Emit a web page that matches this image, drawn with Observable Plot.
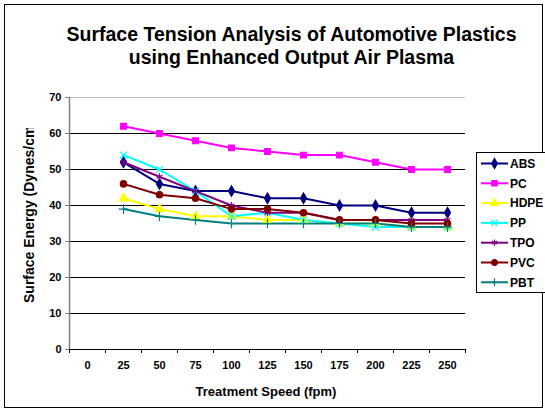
<!DOCTYPE html>
<html>
<head>
<meta charset="utf-8">
<script src="https://cdn.jsdelivr.net/npm/d3@7"></script>
<script src="https://cdn.jsdelivr.net/npm/@observablehq/plot@0.6"></script>
<style>
  html, body { margin: 0; padding: 0; background: #fff; }
  #chart { position: relative; width: 545px; height: 410px; }
</style>
</head>
<body>
<div id="chart"></div>
<script>
const titleLines = ["Surface Tension Analysis of Automotive Plastics", "using Enhanced Output Air Plasma"];
const xTitle = "Treatment Speed (fpm)";
const yTitle = "Surface Energy (Dynes/cm";
const categories = ["0", "25", "50", "75", "100", "125", "150", "175", "200", "225", "250"];
const speeds = ["25", "50", "75", "100", "125", "150", "175", "200", "225", "250"];
const yTicks = [0, 10, 20, 30, 40, 50, 60, 70];
const seriesNames = ["ABS", "PC", "HDPE", "PP", "TPO", "PVC", "PBT"];
const seriesColors = ["#000080", "#FF00FF", "#FFFF00", "#00FFFF", "#800080", "#800000", "#008080"];
const seriesSymbols = ["diamond", "square", "triangle", "times", "asterisk", "circle", "plus"];

const abs  = [52, 46, 44, 44, 42, 42, 40, 40, 38, 38];
const pc   = [62, 60, 58, 56, 55, 54, 54, 52, 50, 50];
const hdpe = [42, 39, 37, 37, 36, 36, 35, 35, 34, 34];
const pp   = [54, 50, 44, 37, 38, 36, 35, 34, 34, 34];
const tpo  = [52, 48, 44, 40, 38, 38, 36, 36, 36, 36];
const pvc  = [46, 43, 42, 39, 39, 38, 36, 36, 35, 35];
const pbt  = [39, 37, 36, 35, 35, 35, 35, 35, 34, 34];

const seriesValues = [abs, pc, hdpe, pp, tpo, pvc, pbt];
const rows = [];
seriesNames.forEach((name, k) => {
  speeds.forEach((s, i) => rows.push({series: name, speed: s, value: seriesValues[k][i]}));
});

const font = "'Liberation Sans', Arial, sans-serif";

const chart = Plot.plot({
  width: 545,
  height: 410,
  marginLeft: 69,
  marginRight: 80,
  marginTop: 97,
  marginBottom: 61,
  style: {fontFamily: font, fontSize: "11px", fontWeight: "bold", color: "#000", background: "#fff", overflow: "visible"},
  x: {type: "point", domain: categories, padding: 0.5},
  y: {domain: [0, 70]},
  color: {domain: seriesNames, range: seriesColors},
  symbol: {domain: seriesNames, range: seriesSymbols},
  marks: [
    Plot.ruleY(yTicks.filter(d => d > 0 && d < 70), {stroke: "#000", strokeWidth: 1}),
    Plot.ruleY([70], {stroke: "#c0c0c0", strokeWidth: 1}),
    Plot.axisY({ticks: yTicks, tickSize: 4, tickPadding: 4, label: null, stroke: "#808080", tickFormat: d => String(d)}),
    Plot.axisX({tickSize: 0, tickPadding: 12, label: null}),
    Plot.axisX({tickSize: 4, dx: -18, tickFormat: () => "", label: null, stroke: "#000"}),
    Plot.axisX({ticks: ["250"], tickSize: 4, dx: 18, tickFormat: () => "", label: null, stroke: "#000"}),
    Plot.frame({anchor: "left", stroke: "#808080", strokeWidth: 1.5}),
    Plot.ruleY([0], {stroke: "#000", strokeWidth: 1}),
    Plot.line(rows, {x: "speed", y: "value", z: "series", stroke: "series", strokeWidth: 2}),
    Plot.dot(rows, {x: "speed", y: "value", symbol: "series", fill: "series", stroke: "series", strokeWidth: 1.2, r: 3.2})
  ]
});

document.getElementById("chart").appendChild(chart);

const svg = d3.select(chart);
// outer border
svg.append("rect").attr("x", 4.5).attr("y", 4.5).attr("width", 538).attr("height", 403)
  .attr("fill", "none").attr("stroke", "#000").attr("stroke-width", 1);

// title
const t = svg.append("text").attr("text-anchor", "middle").attr("font-family", font)
  .attr("font-size", 19.5).attr("font-weight", "bold").attr("fill", "#000");
titleLines.forEach((line, i) => t.append("tspan").attr("x", 291.5).attr("y", 41 + i * 23).text(line));

// axis titles
svg.append("text").attr("x", 266).attr("y", 396).attr("text-anchor", "middle")
  .attr("font-family", font).attr("font-size", 13).attr("font-weight", "bold").text(xTitle);
svg.append("clipPath").attr("id", "ytitle-clip")
  .append("rect").attr("x", 0).attr("y", 128).attr("width", 60).attr("height", 200);
svg.append("text").attr("transform", "translate(33.5,303) rotate(-90)").attr("text-anchor", "start")
  .attr("clip-path", null)
  .attr("font-family", font).attr("font-size", 14).attr("font-weight", "bold").text(yTitle);
svg.select("text:last-of-type");
svg.selectAll("text").filter(function () { return this.textContent === yTitle; })
  .each(function () {
    const g = svg.append("g").attr("clip-path", "url(#ytitle-clip)");
    g.node().appendChild(this);
  });

// legend
const lg = svg.append("g");
lg.append("rect").attr("x", 476.5).attr("y", 152.5).attr("width", 70).attr("height", 140)
  .attr("fill", "#fff").attr("stroke", "#000").attr("stroke-width", 1);
const symMap = {diamond: d3.symbolDiamond, square: d3.symbolSquare, triangle: d3.symbolTriangle,
  times: d3.symbolTimes, asterisk: d3.symbolAsterisk, circle: d3.symbolCircle, plus: d3.symbolCross};
seriesNames.forEach((name, i) => {
  const y = 163.5 + i * 19.8;
  const g = lg.append("g");
  g.append("line").attr("x1", 481).attr("x2", 508).attr("y1", y).attr("y2", y)
    .attr("stroke", seriesColors[i]).attr("stroke-width", 2);
  const s = seriesSymbols[i];
  const path = s === "plus" ? "M-4,0H4M0,-4V4" : d3.symbol(symMap[s], Math.PI * 3 * 3)();
  g.append("path").attr("d", path).attr("transform", `translate(494.5,${y})`)
    .attr("fill", seriesColors[i]).attr("stroke", seriesColors[i]).attr("stroke-width", 1.2);
  g.append("text").attr("x", 510).attr("y", y).attr("dy", "0.35em").attr("text-anchor", "start")
    .attr("font-family", font).attr("font-size", 12).attr("font-weight", "bold").text(name);
});
</script>
</body>
</html>
